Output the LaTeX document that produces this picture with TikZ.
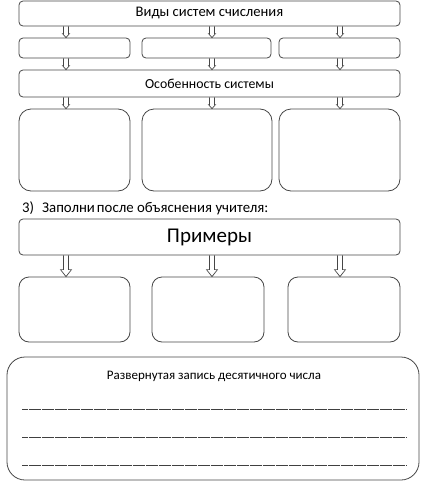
\documentclass[tikz,border=0pt]{standalone}
\usepackage{fontspec}
\setmainfont{Carlito}
\usetikzlibrary{calc}
\definecolor{boxgray}{RGB}{70,70,70}
\tikzset{
  box/.style={draw=boxgray, line width=0.8pt, rounded corners=#1, inner sep=0pt},
  box/.default=4pt,
  arr/.style={draw=boxgray, line width=0.7pt, line join=miter},
  rule/.style={draw=black!75, line width=0.7pt, dash pattern=on 6pt off 0.5pt}
}
% hollow arrow: x, from node, to node, half head width, head length
\newcommand{\blockarrow}[5]{%
  \draw[arr] let \p1=(#1,0 |- #2.south), \p2=(#1,0 |- #3.north) in
    (\x1-2.5pt,\y1) -- (\x1-2.5pt,\y2+#5) -- (\x1-#4,\y2+#5) -- (\x1,\y2)
    -- (\x1+#4,\y2+#5) -- (\x1+2.5pt,\y2+#5) -- (\x1+2.5pt,\y1);
}
\begin{document}
\begin{tikzpicture}[x=1pt, y=-1pt]
\useasboundingbox (0,0) rectangle (423,482);
\node [box, minimum width=381, minimum height=25, font=\fontsize{14.6}{16}\selectfont] (vidy) at (209.5,13.5) {Виды систем счисления};
\node [box, minimum width=111, minimum height=20] (t1) at (74.5,48) {};
\node [box, minimum width=129, minimum height=20] (t2) at (206.5,48) {};
\node [box, minimum width=121, minimum height=20] (t3) at (339.5,48) {};
\node [box, minimum width=381, minimum height=27, font=\fontsize{13.8}{16}\selectfont] (osob) at (209.5,83.5) {Особенность системы};
\node [box=12pt, minimum width=111, minimum height=82] (b1) at (74.5,150) {};
\node [box=12pt, minimum width=130, minimum height=82] (b2) at (207,150) {};
\node [box=12pt, minimum width=121, minimum height=82] (b3) at (339.5,150) {};
\foreach \ax/\a/\b in {66/vidy/t1, 212/vidy/t2, 340/vidy/t3, 66/t1/osob, 212/t2/osob, 340/t3/osob, 66/osob/b1, 212/osob/b2, 340/osob/b3}{\blockarrow{\ax}{\a}{\b}{3.5pt}{4pt}}
\node [anchor=west, inner sep=0pt, font=\fontsize{14.8}{16}\selectfont] (task) at (22,208) {3)\hspace{8pt}Заполни\hspace{2pt}после объяснения учителя:};
\node [box, minimum width=381, minimum height=36, font=\fontsize{21}{24}\selectfont] (prim) at (209.5,237) {Примеры};
\node [box=10pt, minimum width=111, minimum height=65] (e1) at (74.5,309.5) {};
\node [box=10pt, minimum width=112, minimum height=65] (e2) at (208,309.5) {};
\node [box=10pt, minimum width=112, minimum height=65] (e3) at (344,309.5) {};
\foreach \ax/\b in {66/e1, 212/e2, 340/e3}{\blockarrow{\ax}{prim}{\b}{5.5pt}{7pt}}
\node [box=18pt, minimum width=412, minimum height=123] (zapis) at (213,418.5) {};
\node [font=\fontsize{13}{15}\selectfont] (zapist) at (214,376) {Развернутая запись десятичного числа};
\foreach \y in {409, 437, 465}{\draw [rule] (22,\y) -- (407,\y);}
\end{tikzpicture}
\end{document}
